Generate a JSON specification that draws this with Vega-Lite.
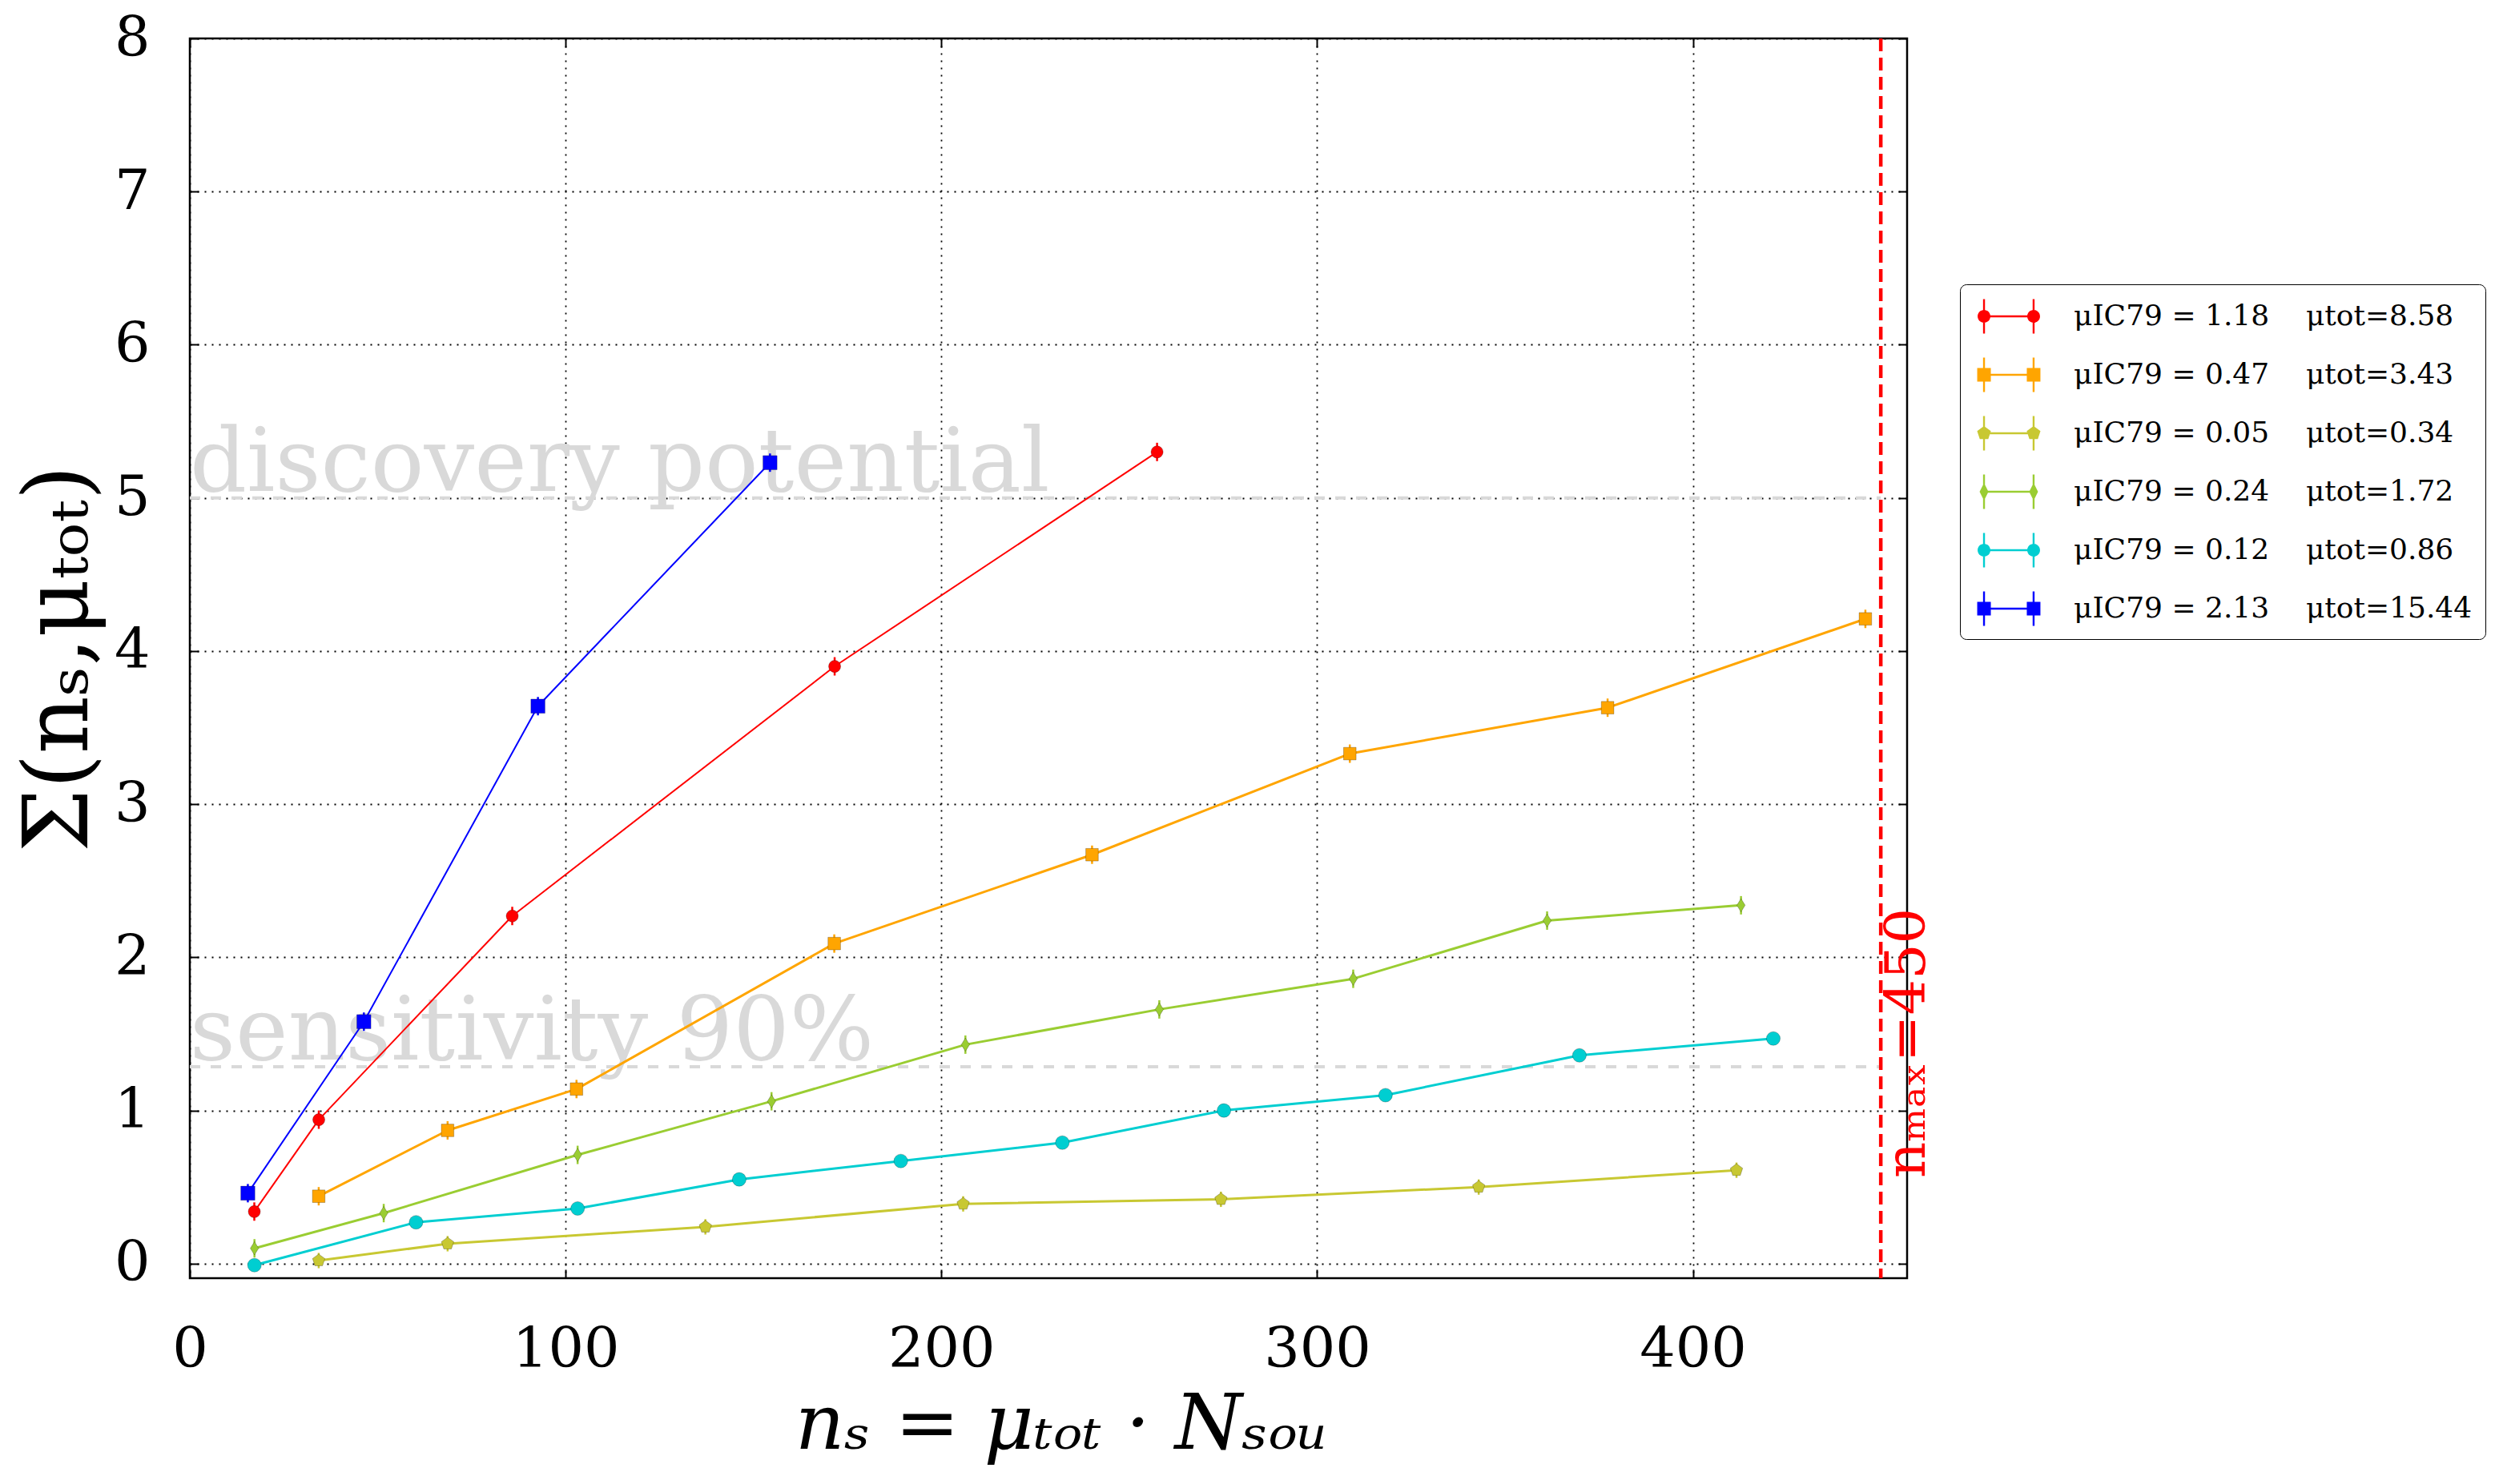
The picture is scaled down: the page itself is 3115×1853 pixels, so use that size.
{
  "$schema": "https://vega.github.io/schema/vega-lite/v6.json",
  "width": 2144,
  "height": 1548,
  "autosize": {"type": "none"},
  "padding": {"left": 237, "top": 48, "right": 734, "bottom": 257},
  "background": "white",
  "config": {"view": {"stroke": "black", "strokeWidth": 2.5}, "font": "DejaVu Serif"},
  "datasets": {
    "pts": [
      {"series": "μIC79 = 1.18\u00a0\u00a0\u00a0\u00a0μtot=8.58", "x": 17.16, "y": 0.34, "err": 0.06},
      {"series": "μIC79 = 1.18\u00a0\u00a0\u00a0\u00a0μtot=8.58", "x": 34.32, "y": 0.94, "err": 0.06},
      {"series": "μIC79 = 1.18\u00a0\u00a0\u00a0\u00a0μtot=8.58", "x": 85.8, "y": 2.27, "err": 0.06},
      {"series": "μIC79 = 1.18\u00a0\u00a0\u00a0\u00a0μtot=8.58", "x": 171.6, "y": 3.9, "err": 0.06},
      {"series": "μIC79 = 1.18\u00a0\u00a0\u00a0\u00a0μtot=8.58", "x": 257.4, "y": 5.3, "err": 0.06},
      {"series": "μIC79 = 0.47\u00a0\u00a0\u00a0\u00a0μtot=3.43", "x": 34.3, "y": 0.44, "err": 0.06},
      {"series": "μIC79 = 0.47\u00a0\u00a0\u00a0\u00a0μtot=3.43", "x": 68.6, "y": 0.87, "err": 0.06},
      {"series": "μIC79 = 0.47\u00a0\u00a0\u00a0\u00a0μtot=3.43", "x": 102.9, "y": 1.14, "err": 0.06},
      {"series": "μIC79 = 0.47\u00a0\u00a0\u00a0\u00a0μtot=3.43", "x": 171.5, "y": 2.09, "err": 0.06},
      {"series": "μIC79 = 0.47\u00a0\u00a0\u00a0\u00a0μtot=3.43", "x": 240.1, "y": 2.67, "err": 0.06},
      {"series": "μIC79 = 0.47\u00a0\u00a0\u00a0\u00a0μtot=3.43", "x": 308.7, "y": 3.33, "err": 0.06},
      {"series": "μIC79 = 0.47\u00a0\u00a0\u00a0\u00a0μtot=3.43", "x": 377.3, "y": 3.63, "err": 0.06},
      {"series": "μIC79 = 0.47\u00a0\u00a0\u00a0\u00a0μtot=3.43", "x": 445.9, "y": 4.21, "err": 0.06},
      {"series": "μIC79 = 0.05\u00a0\u00a0\u00a0\u00a0μtot=0.34", "x": 34.3, "y": 0.02, "err": 0.05},
      {"series": "μIC79 = 0.05\u00a0\u00a0\u00a0\u00a0μtot=0.34", "x": 68.6, "y": 0.13, "err": 0.05},
      {"series": "μIC79 = 0.05\u00a0\u00a0\u00a0\u00a0μtot=0.34", "x": 137.2, "y": 0.24, "err": 0.05},
      {"series": "μIC79 = 0.05\u00a0\u00a0\u00a0\u00a0μtot=0.34", "x": 205.8, "y": 0.39, "err": 0.05},
      {"series": "μIC79 = 0.05\u00a0\u00a0\u00a0\u00a0μtot=0.34", "x": 274.4, "y": 0.42, "err": 0.05},
      {"series": "μIC79 = 0.05\u00a0\u00a0\u00a0\u00a0μtot=0.34", "x": 343.0, "y": 0.5, "err": 0.05},
      {"series": "μIC79 = 0.05\u00a0\u00a0\u00a0\u00a0μtot=0.34", "x": 411.6, "y": 0.61, "err": 0.05},
      {"series": "μIC79 = 0.24\u00a0\u00a0\u00a0\u00a0μtot=1.72", "x": 17.2, "y": 0.1, "err": 0.06},
      {"series": "μIC79 = 0.24\u00a0\u00a0\u00a0\u00a0μtot=1.72", "x": 51.6, "y": 0.33, "err": 0.06},
      {"series": "μIC79 = 0.24\u00a0\u00a0\u00a0\u00a0μtot=1.72", "x": 103.2, "y": 0.71, "err": 0.06},
      {"series": "μIC79 = 0.24\u00a0\u00a0\u00a0\u00a0μtot=1.72", "x": 154.8, "y": 1.06, "err": 0.06},
      {"series": "μIC79 = 0.24\u00a0\u00a0\u00a0\u00a0μtot=1.72", "x": 206.4, "y": 1.43, "err": 0.06},
      {"series": "μIC79 = 0.24\u00a0\u00a0\u00a0\u00a0μtot=1.72", "x": 258.0, "y": 1.66, "err": 0.06},
      {"series": "μIC79 = 0.24\u00a0\u00a0\u00a0\u00a0μtot=1.72", "x": 309.6, "y": 1.86, "err": 0.06},
      {"series": "μIC79 = 0.24\u00a0\u00a0\u00a0\u00a0μtot=1.72", "x": 361.2, "y": 2.24, "err": 0.06},
      {"series": "μIC79 = 0.24\u00a0\u00a0\u00a0\u00a0μtot=1.72", "x": 412.8, "y": 2.34, "err": 0.06},
      {"series": "μIC79 = 0.12\u00a0\u00a0\u00a0\u00a0μtot=0.86", "x": 17.2, "y": -0.01, "err": 0.035},
      {"series": "μIC79 = 0.12\u00a0\u00a0\u00a0\u00a0μtot=0.86", "x": 60.2, "y": 0.27, "err": 0.035},
      {"series": "μIC79 = 0.12\u00a0\u00a0\u00a0\u00a0μtot=0.86", "x": 103.2, "y": 0.36, "err": 0.035},
      {"series": "μIC79 = 0.12\u00a0\u00a0\u00a0\u00a0μtot=0.86", "x": 146.2, "y": 0.55, "err": 0.035},
      {"series": "μIC79 = 0.12\u00a0\u00a0\u00a0\u00a0μtot=0.86", "x": 189.2, "y": 0.67, "err": 0.035},
      {"series": "μIC79 = 0.12\u00a0\u00a0\u00a0\u00a0μtot=0.86", "x": 232.2, "y": 0.79, "err": 0.035},
      {"series": "μIC79 = 0.12\u00a0\u00a0\u00a0\u00a0μtot=0.86", "x": 275.2, "y": 1.0, "err": 0.035},
      {"series": "μIC79 = 0.12\u00a0\u00a0\u00a0\u00a0μtot=0.86", "x": 318.2, "y": 1.1, "err": 0.035},
      {"series": "μIC79 = 0.12\u00a0\u00a0\u00a0\u00a0μtot=0.86", "x": 369.8, "y": 1.36, "err": 0.035},
      {"series": "μIC79 = 0.12\u00a0\u00a0\u00a0\u00a0μtot=0.86", "x": 421.4, "y": 1.47, "err": 0.035},
      {"series": "μIC79 = 2.13\u00a0\u00a0\u00a0\u00a0μtot=15.44", "x": 15.44, "y": 0.46, "err": 0.06},
      {"series": "μIC79 = 2.13\u00a0\u00a0\u00a0\u00a0μtot=15.44", "x": 46.32, "y": 1.58, "err": 0.06},
      {"series": "μIC79 = 2.13\u00a0\u00a0\u00a0\u00a0μtot=15.44", "x": 92.64, "y": 3.64, "err": 0.06},
      {"series": "μIC79 = 2.13\u00a0\u00a0\u00a0\u00a0μtot=15.44", "x": 154.4, "y": 5.23, "err": 0.06}
    ],
    "hlines": [
      {"label": "discovery potential", "y": 5.0, "x": 0, "xe": 450},
      {"label": "sensitivity 90%", "y": 1.285, "x": 0, "xe": 450}
    ],
    "vline": [
      {"label": "nₘₐₓ=450", "x": 450, "ty": 1.44}
    ]
  },
  "layer": [
    {
      "data": {"name": "hlines"},
      "mark": {"type": "text", "align": "left", "baseline": "alphabetic", "dy": -9, "fontSize": 111, "font": "DejaVu Serif", "color": "#d9d9d9"},
      "encoding": {
        "x": {"field": "x", "type": "quantitative", "scale": {"domain": [0, 457], "nice": false, "zero": false}, "axis": null},
        "y": {"field": "y", "type": "quantitative", "scale": {"domain": [-0.095, 8], "nice": false, "zero": false}, "axis": null},
        "text": {"field": "label"}
      }
    },
    {
      "data": {"name": "hlines"},
      "mark": {"type": "rule", "color": "#d9d9d9", "strokeWidth": 4, "strokeDash": [13, 13]},
      "encoding": {
        "x": {"field": "x", "type": "quantitative", "axis": null},
        "x2": {"field": "xe"},
        "y": {"field": "y", "type": "quantitative", "axis": null}
      }
    },
    {
      "data": {"name": "vline"},
      "mark": {"type": "rule", "color": "#ff0000", "strokeWidth": 4.5, "strokeDash": [16, 8]},
      "encoding": {
        "x": {"field": "x", "type": "quantitative", "axis": null}
      }
    },
    {
      "data": {"name": "vline"},
      "mark": {"type": "text", "angle": 270, "align": "center", "baseline": "top", "fontSize": 70, "font": "DejaVu Serif", "color": "#ff0000"},
      "encoding": {
        "x": {"field": "x", "type": "quantitative", "axis": null},
        "y": {"field": "ty", "type": "quantitative", "axis": null},
        "text": {"field": "label"}
      }
    },
    {
      "data": {"name": "pts"},
      "transform": [{"filter": {"field": "series", "oneOf": ["μIC79 = 0.47\u00a0\u00a0\u00a0\u00a0μtot=3.43", "μIC79 = 0.05\u00a0\u00a0\u00a0\u00a0μtot=0.34", "μIC79 = 0.24\u00a0\u00a0\u00a0\u00a0μtot=1.72", "μIC79 = 0.12\u00a0\u00a0\u00a0\u00a0μtot=0.86"]}}],
      "mark": {"type": "line", "strokeJoin": "round", "strokeWidth": 3},
      "encoding": {
        "x": {"field": "x", "type": "quantitative", "axis": {"orient": "top", "values": [0, 100, 200, 300, 400], "labels": false, "title": null, "domain": false, "grid": false, "tickSize": -11, "tickWidth": 2, "tickColor": "black"}},
        "y": {"field": "y", "type": "quantitative", "axis": {"orient": "right", "values": [0, 1, 2, 3, 4, 5, 6, 7, 8], "labels": false, "title": null, "domain": false, "grid": false, "tickSize": -11, "tickWidth": 2, "tickColor": "black"}},
        "color": {"field": "series", "type": "nominal", "scale": {"domain": ["μIC79 = 1.18\u00a0\u00a0\u00a0\u00a0μtot=8.58", "μIC79 = 0.47\u00a0\u00a0\u00a0\u00a0μtot=3.43", "μIC79 = 0.05\u00a0\u00a0\u00a0\u00a0μtot=0.34", "μIC79 = 0.24\u00a0\u00a0\u00a0\u00a0μtot=1.72", "μIC79 = 0.12\u00a0\u00a0\u00a0\u00a0μtot=0.86", "μIC79 = 2.13\u00a0\u00a0\u00a0\u00a0μtot=15.44"], "range": ["#ff0000", "#ffa500", "#c8c832", "#9acd32", "#00ced1", "#0000ff"]}, "legend": null}
      }
    },
    {
      "data": {"name": "pts"},
      "transform": [{"filter": {"field": "series", "oneOf": ["μIC79 = 1.18\u00a0\u00a0\u00a0\u00a0μtot=8.58", "μIC79 = 2.13\u00a0\u00a0\u00a0\u00a0μtot=15.44"]}}],
      "mark": {"type": "line", "strokeJoin": "round", "strokeWidth": 2},
      "encoding": {
        "x": {"field": "x", "type": "quantitative", "axis": null},
        "y": {"field": "y", "type": "quantitative", "axis": null},
        "color": {"field": "series", "type": "nominal", "legend": null}
      }
    },
    {
      "data": {"name": "pts"},
      "mark": {"type": "errorbar", "ticks": false, "thickness": 2.5},
      "encoding": {
        "x": {"field": "x", "type": "quantitative", "axis": null},
        "y": {"field": "y", "type": "quantitative", "axis": null},
        "yError": {"field": "err"},
        "color": {"field": "series", "type": "nominal", "legend": null}
      }
    },
    {
      "data": {"name": "pts"},
      "mark": {"type": "point", "filled": true, "opacity": 1, "stroke": "#000000", "strokeOpacity": 0.3, "strokeWidth": 0.8},
      "encoding": {
        "x": {"field": "x", "type": "quantitative", "axis": {"orient": "bottom", "values": [0, 100, 200, 300, 400], "format": "d", "title": "nₛ = μₜₒₜ · Nₛₒᵤ", "titleFont": "DejaVu Serif", "titleFontSize": 96, "titleFontWeight": "normal", "titleFontStyle": "italic", "titleColor": "black", "titleX": 1088, "titleY": 212, "titleAlign": "center", "titleBaseline": "alphabetic", "labelFont": "DejaVu Serif", "labelFontSize": 70, "labelColor": "black", "labelPadding": 66, "labelFlush": false, "labelOverlap": false, "labelBound": false, "tickSize": -11, "tickWidth": 2, "tickColor": "black", "domain": false, "grid": true, "gridColor": "black", "gridDash": [2, 7], "gridWidth": 1.8, "gridOpacity": 1}},
        "y": {"field": "y", "type": "quantitative", "axis": {"orient": "left", "values": [0, 1, 2, 3, 4, 5, 6, 7, 8], "format": "d", "title": "Σ(nₛ,μₜₒₜ)", "titleFont": "DejaVu Serif", "titleFontSize": 112, "titleFontWeight": "normal", "titleColor": "black", "titleAngle": 270, "titleX": -129, "titleY": 774, "titleAlign": "center", "titleBaseline": "alphabetic", "labelFont": "DejaVu Serif", "labelFontSize": 70, "labelColor": "black", "labelPadding": 61, "labelFlush": false, "labelOverlap": false, "labelBound": false, "tickSize": -11, "tickWidth": 2, "tickColor": "black", "domain": false, "grid": true, "gridColor": "black", "gridDash": [2, 7], "gridWidth": 1.8, "gridOpacity": 1}},
        "color": {"field": "series", "type": "nominal", "legend": null},
        "shape": {"field": "series", "type": "nominal", "scale": {"domain": ["μIC79 = 1.18\u00a0\u00a0\u00a0\u00a0μtot=8.58", "μIC79 = 0.47\u00a0\u00a0\u00a0\u00a0μtot=3.43", "μIC79 = 0.05\u00a0\u00a0\u00a0\u00a0μtot=0.34", "μIC79 = 0.24\u00a0\u00a0\u00a0\u00a0μtot=1.72", "μIC79 = 0.12\u00a0\u00a0\u00a0\u00a0μtot=0.86", "μIC79 = 2.13\u00a0\u00a0\u00a0\u00a0μtot=15.44"], "range": ["circle", "square", "M0,-1L0.951,-0.309L0.588,0.809L-0.588,0.809L-0.951,-0.309Z", "M0,-1L0.62,0L0,1L-0.62,0Z", "circle", "square"]}, "legend": null},
        "size": {"field": "series", "type": "nominal", "scale": {"domain": ["μIC79 = 1.18\u00a0\u00a0\u00a0\u00a0μtot=8.58", "μIC79 = 0.47\u00a0\u00a0\u00a0\u00a0μtot=3.43", "μIC79 = 0.05\u00a0\u00a0\u00a0\u00a0μtot=0.34", "μIC79 = 0.24\u00a0\u00a0\u00a0\u00a0μtot=1.72", "μIC79 = 0.12\u00a0\u00a0\u00a0\u00a0μtot=0.86", "μIC79 = 2.13\u00a0\u00a0\u00a0\u00a0μtot=15.44"], "range": [230, 310, 280, 520, 230, 310]}, "legend": null}
      }
    },
    {
      "data": {"name": "pts"},
      "mark": {"type": "point", "filled": true, "opacity": 0},
      "encoding": {
        "x": {"field": "x", "type": "quantitative", "axis": null},
        "y": {"field": "y", "type": "quantitative", "axis": null},
        "fill": {"field": "series", "type": "nominal", "scale": {"domain": ["μIC79 = 1.18\u00a0\u00a0\u00a0\u00a0μtot=8.58", "μIC79 = 0.47\u00a0\u00a0\u00a0\u00a0μtot=3.43", "μIC79 = 0.05\u00a0\u00a0\u00a0\u00a0μtot=0.34", "μIC79 = 0.24\u00a0\u00a0\u00a0\u00a0μtot=1.72", "μIC79 = 0.12\u00a0\u00a0\u00a0\u00a0μtot=0.86", "μIC79 = 2.13\u00a0\u00a0\u00a0\u00a0μtot=15.44"], "range": ["#ff0000", "#ffa500", "#c8c832", "#9acd32", "#00ced1", "#0000ff"]}, "legend": {"title": null, "orient": "none", "legendX": 2210, "legendY": 307, "strokeColor": "black", "cornerRadius": 8, "fillColor": "white", "padding": 16, "symbolSize": 2304, "symbolOffset": 21, "labelOffset": 57, "rowPadding": 27, "labelFont": "DejaVu Serif", "labelFontSize": 36, "labelColor": "black", "labelLimit": 800, "symbolStrokeWidth": 0, "symbolOpacity": 1}},
        "shape": {"field": "series", "type": "nominal", "scale": {"domain": ["μIC79 = 1.18\u00a0\u00a0\u00a0\u00a0μtot=8.58", "μIC79 = 0.47\u00a0\u00a0\u00a0\u00a0μtot=3.43", "μIC79 = 0.05\u00a0\u00a0\u00a0\u00a0μtot=0.34", "μIC79 = 0.24\u00a0\u00a0\u00a0\u00a0μtot=1.72", "μIC79 = 0.12\u00a0\u00a0\u00a0\u00a0μtot=0.86", "μIC79 = 2.13\u00a0\u00a0\u00a0\u00a0μtot=15.44"], "range": [
          "M-1.29,-0.05H1.29V0.05H-1.29Z M-1.34,-0.9H-1.24V0.9H-1.34Z M1.24,-0.9H1.34V0.9H1.24Z M-1.623,0A0.333,0.333,0,1,1,-0.957,0A0.333,0.333,0,1,1,-1.623,0Z M0.957,0A0.333,0.333,0,1,1,1.623,0A0.333,0.333,0,1,1,0.957,0Z",
          "M-1.29,-0.05H1.29V0.05H-1.29Z M-1.34,-0.9H-1.24V0.9H-1.34Z M1.24,-0.9H1.34V0.9H1.24Z M-1.644,-0.354H-0.936V0.354H-1.644Z M0.936,-0.354H1.644V0.354H0.936Z",
          "M-1.29,-0.05H1.29V0.05H-1.29Z M-1.34,-0.9H-1.24V0.9H-1.34Z M1.24,-0.9H1.34V0.9H1.24Z M-1.29,-0.375L-0.933,-0.116L-1.07,0.303L-1.51,0.303L-1.647,-0.116Z M1.29,-0.375L1.647,-0.116L1.51,0.303L1.07,0.303L0.933,-0.116Z",
          "M-1.29,-0.05H1.29V0.05H-1.29Z M-1.34,-0.9H-1.24V0.9H-1.34Z M1.24,-0.9H1.34V0.9H1.24Z M-1.29,-0.46L-1.06,0L-1.29,0.46L-1.52,0Z M1.29,-0.46L1.52,0L1.29,0.46L1.06,0Z",
          "M-1.29,-0.05H1.29V0.05H-1.29Z M-1.34,-0.9H-1.24V0.9H-1.34Z M1.24,-0.9H1.34V0.9H1.24Z M-1.623,0A0.333,0.333,0,1,1,-0.957,0A0.333,0.333,0,1,1,-1.623,0Z M0.957,0A0.333,0.333,0,1,1,1.623,0A0.333,0.333,0,1,1,0.957,0Z",
          "M-1.29,-0.05H1.29V0.05H-1.29Z M-1.34,-0.9H-1.24V0.9H-1.34Z M1.24,-0.9H1.34V0.9H1.24Z M-1.644,-0.354H-0.936V0.354H-1.644Z M0.936,-0.354H1.644V0.354H0.936Z"
        ]}, "legend": {"title": null, "orient": "none", "legendX": 2210, "legendY": 307, "strokeColor": "black", "cornerRadius": 8, "fillColor": "white", "padding": 16, "symbolSize": 2304, "symbolOffset": 21, "labelOffset": 57, "rowPadding": 27, "labelFont": "DejaVu Serif", "labelFontSize": 36, "labelColor": "black", "labelLimit": 800, "symbolStrokeWidth": 0, "symbolOpacity": 1}}
      }
    }
  ],
  "resolve": {
    "scale": {"shape": "independent", "size": "independent", "fill": "independent"},
    "axis": {"x": "independent", "y": "independent"}
  }
}
